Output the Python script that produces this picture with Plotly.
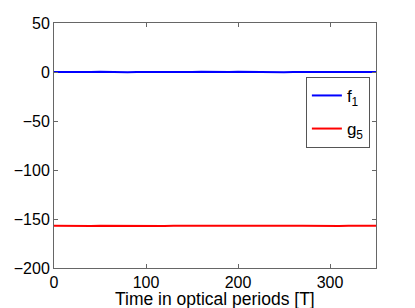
import plotly.graph_objects as go

# time axis in optical periods
t = [0, 10, 20, 30, 40, 50, 60, 70, 80, 90, 100, 110, 120, 130, 140, 150, 160, 170,
     180, 190, 200, 210, 220, 230, 240, 250, 260, 270, 280, 290, 300, 310, 320, 330,
     340, 350]

f1 = [0.1, -0.1, 0.2, 0.0, -0.1, 0.2, -0.1, 0.1, -0.2, 0.1, 0.0, 0.2, -0.1, 0.1,
      0.1, -0.1, 0.2, 0.0, 0.1, -0.1, 0.2, 0.0, -0.1, 0.1, 0.0, -0.2, 0.1, 0.2,
      -0.1, 0.1, -0.1, 0.2, 0.0, -0.1, 0.1, 0.0]

g5 = [-156.9, -157.1, -156.8, -157.0, -157.1, -156.9, -157.0, -156.9, -157.2,
      -156.9, -157.0, -156.8, -157.1, -156.9, -157.0, -157.1, -156.9, -157.0,
      -156.9, -157.1, -156.9, -157.0, -156.8, -157.0, -157.1, -156.9, -157.0,
      -156.9, -157.1, -156.9, -157.0, -157.1, -156.9, -157.0, -156.9, -157.0]

axis_common = dict(showline=True, linecolor="#666", linewidth=1, mirror="ticks",
                   ticks="inside", ticklen=4, tickcolor="#666", showgrid=False,
                   zeroline=False, automargin=False,
                   tickfont=dict(size=16, color="black"))

fig = go.Figure()
fig.add_trace(go.Scatter(x=t, y=f1, mode="lines", name="f<sub>1</sub>", legendgroup="f",
                         line=dict(color="#0000ff", width=2)))
fig.add_trace(go.Scatter(x=t, y=g5, mode="lines", name="g<sub>5</sub>", legendgroup="g",
                         line=dict(color="#ff0000", width=2)))

fig.update_layout(
    width=415, height=308,
    margin=dict(l=54, r=39, t=23, b=40),
    plot_bgcolor="white", paper_bgcolor="white",
    font=dict(family="Liberation Sans, Arial, sans-serif", size=16, color="black"),
    showlegend=True,
    legend=dict(x=0.981, y=0.78, xanchor="right", yanchor="top",
                bordercolor="#555", borderwidth=1, bgcolor="white",
                font=dict(size=17), tracegroupgap=8),
)
# x-axis label placed as annotation so it can sit tight under the tick labels
fig.add_annotation(text="Time in optical periods [T]", xref="paper", yref="paper",
                   x=0.5, y=0, xanchor="center", yanchor="top", yshift=-19,
                   showarrow=False, font=dict(size=17.5))
fig.update_xaxes(range=[0, 350], tickvals=[0, 100, 200, 300], **axis_common)
fig.update_yaxes(range=[-200, 50], tickvals=[-200, -150, -100, -50, 0, 50],
                 ticktext=["\u2212200", "\u2212150", "\u2212100", "\u221250", "0", "50"],
                 **axis_common)

fig.write_html("out.html", config={"displayModeBar": False},
               post_script="document.body.style.margin='0';")
